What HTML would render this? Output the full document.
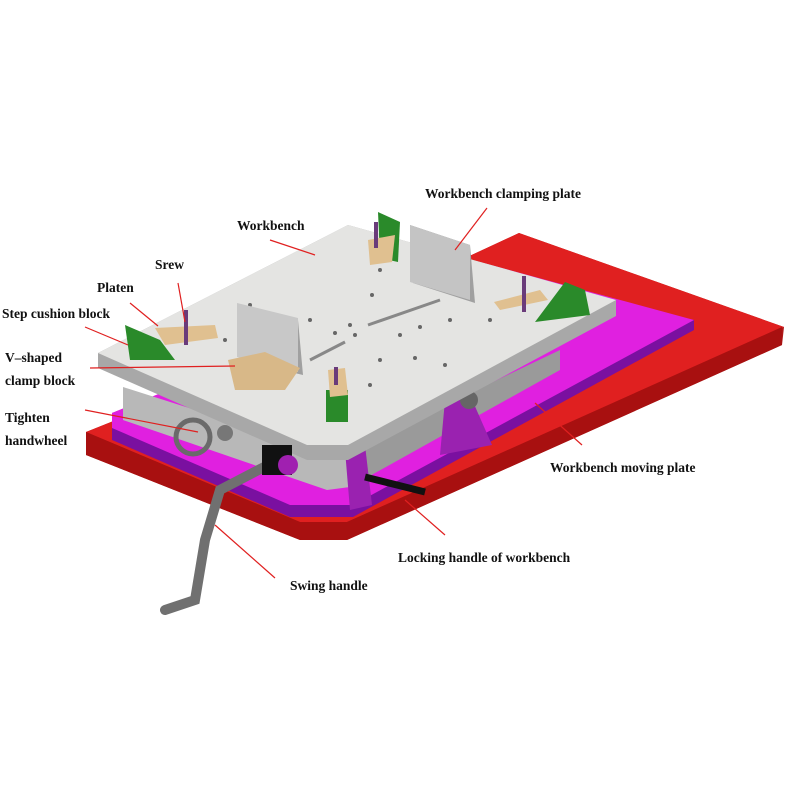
<!DOCTYPE html>
<html><head><meta charset="utf-8"><style>
html,body{margin:0;padding:0;background:#fff;width:800px;height:800px;overflow:hidden}
text{font-family:"Liberation Serif",serif;font-weight:bold;font-size:13.5px;fill:#111}
</style></head><body>
<svg width="800" height="800" viewBox="0 0 800 800" xmlns="http://www.w3.org/2000/svg">
<!-- red plate -->
<polygon points="519,233 784,327 782,345 347,540 300,540 86,455 86,432 116,420" fill="#b01818"/>
<polygon points="519,233 784,327 347,522 300,522 86,432 116,420" fill="#e02020"/>
<polygon points="86,432 300,522 347,522 782,327 782,345 347,540 300,540 86,455" fill="#a81010"/>
<!-- magenta plate -->
<polygon points="112,413 480,270 694,320 694,330 353,517 290,517 112,440" fill="#7a10a0"/>
<polygon points="112,413 480,262 694,320 353,505 290,505 112,428" fill="#e020e0"/>
<!-- base block -->
<polygon points="123,387 321,450 350,450 350,487 327,490 123,420" fill="#b8b8b8"/>
<polygon points="350,450 560,350 560,370 350,487" fill="#9a9a9a"/>
<!-- supports -->
<polygon points="445,400 470,395 492,445 440,455" fill="#9a22b0"/>
<circle cx="469" cy="400" r="9" fill="#666"/>
<polygon points="345,450 365,445 372,505 350,510" fill="#9a22b0"/>
<!-- workbench top -->
<polygon points="98,353 348,225 616,300 616,316 348,460 307,460 98,368" fill="#a8a8a8"/>
<polygon points="98,353 348,225 616,300 348,445 307,445" fill="#e4e4e2"/>
<!-- slots and holes -->
<line x1="310" y1="360" x2="345" y2="342" stroke="#888" stroke-width="3"/>
<line x1="368" y1="325" x2="440" y2="300" stroke="#888" stroke-width="3"/>
<g fill="#666">
<circle cx="380" cy="270" r="2"/><circle cx="372" cy="295" r="2"/><circle cx="250" cy="305" r="2"/><circle cx="310" cy="320" r="2"/>
<circle cx="350" cy="325" r="2"/><circle cx="355" cy="335" r="2"/><circle cx="335" cy="333" r="2"/><circle cx="400" cy="335" r="2"/>
<circle cx="420" cy="327" r="2"/><circle cx="450" cy="320" r="2"/><circle cx="490" cy="320" r="2"/><circle cx="380" cy="360" r="2"/>
<circle cx="415" cy="358" r="2"/><circle cx="445" cy="365" r="2"/><circle cx="370" cy="385" r="2"/><circle cx="225" cy="340" r="2"/>
</g>
<!-- handwheel -->
<circle cx="193" cy="437" r="17" fill="none" stroke="#6a6a6a" stroke-width="5"/>
<circle cx="225" cy="433" r="8" fill="#777"/>
<!-- swing handle -->
<path d="M268,465 L220,490 L205,540 L195,600 L165,610" stroke="#707070" stroke-width="10" fill="none" stroke-linecap="round"/>
<rect x="262" y="445" width="30" height="30" fill="#111"/>
<circle cx="288" cy="465" r="10" fill="#a020b0"/>
<!-- locking handle -->
<line x1="365" y1="477" x2="425" y2="492" stroke="#111" stroke-width="7"/>
<!-- clamping plates -->
<polygon points="410,225 470,245 475,303 413,283" fill="#a0a0a0"/>
<polygon points="410,225 470,245 470,300 410,282" fill="#c4c4c4"/>
<polygon points="237,305 298,320 303,375 240,360" fill="#a0a0a0"/>
<polygon points="237,303 298,318 298,372 237,357" fill="#c8c8c8"/>
<polygon points="228,360 265,352 300,368 285,390 235,390" fill="#d8b888"/>
<!-- step blocks -->
<polygon points="125,325 160,340 175,360 130,360" fill="#2a8a2a"/>
<polygon points="378,212 400,222 398,262 380,258" fill="#2a8a2a"/>
<polygon points="565,282 585,290 590,315 535,322" fill="#2a8a2a"/>
<rect x="326" y="390" width="22" height="32" fill="#2a8a2a"/>
<!-- platens -->
<polygon points="155,328 215,325 218,338 165,345" fill="#e0c090"/>
<polygon points="494,302 540,290 548,300 500,310" fill="#e0c090"/>
<polygon points="368,240 395,235 392,262 370,265" fill="#e0c090"/>
<polygon points="328,370 345,368 348,395 330,397" fill="#e0c090"/>
<g stroke="#6a3b7a" stroke-width="4">
<line x1="186" y1="310" x2="186" y2="345"/><line x1="376" y1="222" x2="376" y2="248"/>
<line x1="524" y1="276" x2="524" y2="312"/><line x1="336" y1="367" x2="336" y2="385"/>
</g>
<!-- leader lines -->
<g stroke="#e02020" stroke-width="1.2">
<line x1="487" y1="208" x2="455" y2="250"/>
<line x1="270" y1="240" x2="315" y2="255"/>
<line x1="178" y1="283" x2="185" y2="322"/>
<line x1="130" y1="303" x2="158" y2="326"/>
<line x1="85" y1="327" x2="128" y2="345"/>
<line x1="90" y1="368" x2="235" y2="366"/>
<line x1="85" y1="410" x2="198" y2="432"/>
<line x1="535" y1="403" x2="582" y2="445"/>
<line x1="405" y1="500" x2="445" y2="535"/>
<line x1="215" y1="525" x2="275" y2="578"/>
</g>
<text x="425" y="198">Workbench clamping plate</text>
<text x="237" y="230">Workbench</text>
<text x="155" y="269">Srew</text>
<text x="97" y="292">Platen</text>
<text x="2" y="318">Step cushion block</text>
<text x="5" y="362">V–shaped</text>
<text x="5" y="385">clamp block</text>
<text x="5" y="422">Tighten</text>
<text x="5" y="445">handwheel</text>
<text x="550" y="472">Workbench moving plate</text>
<text x="398" y="562">Locking handle of workbench</text>
<text x="290" y="590">Swing handle</text>
</svg>
</body></html>
